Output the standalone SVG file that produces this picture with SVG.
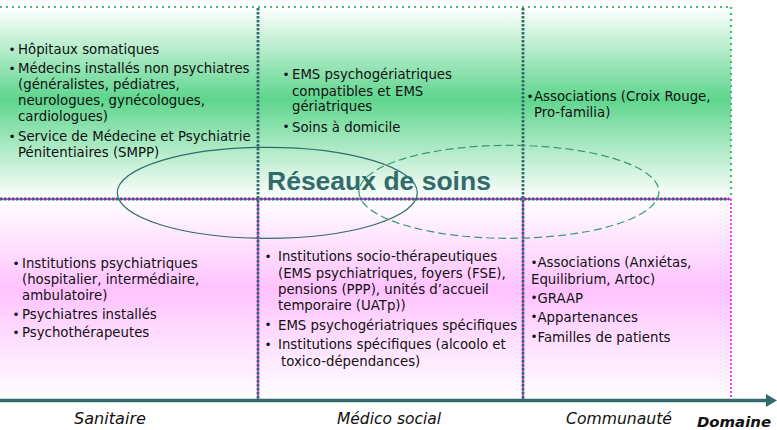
<svg xmlns="http://www.w3.org/2000/svg" width="777" height="430" viewBox="0 0 777 430">
<style>
.t{font-family:"DejaVu Sans","Verdana",sans-serif;font-size:13.3px;fill:#111}
.b{font-family:"DejaVu Sans","Verdana",sans-serif;font-size:12px;fill:#111}
.ax{font-family:"DejaVu Sans","Verdana",sans-serif;font-size:15px;font-style:italic;fill:#111}
.teal{stroke:#336b6b;stroke-width:2.8;stroke-dasharray:2.5 1.5;fill:none}
.mag{stroke:#ff33ff;stroke-width:2;fill:none}
.grn{stroke:#3fbf6f;stroke-width:2.2;stroke-dasharray:2 4;fill:none}
.magdot{stroke:#ff33ff;stroke-width:2;stroke-dasharray:2 2;fill:none}
</style>
<defs>
<linearGradient id="gG" x1="0" y1="0" x2="0" y2="1">
<stop offset="0" stop-color="#ffffff"/>
<stop offset="0.48" stop-color="#5ed58d"/>
<stop offset="1" stop-color="#ffffff"/>
</linearGradient>
<linearGradient id="gP" x1="0" y1="0" x2="0" y2="1">
<stop offset="0" stop-color="#ffffff"/>
<stop offset="0.45" stop-color="#ffc2ff"/>
<stop offset="1" stop-color="#ffffff"/>
</linearGradient>
</defs>
<rect width="777" height="430" fill="#ffffff"/>
<rect x="0" y="7" width="731" height="192" fill="url(#gG)"/>
<rect x="0" y="199" width="731" height="201" fill="url(#gP)"/>

<g id="grid">
<line class="grn" x1="0" y1="7" x2="731" y2="7"/>
<line class="grn" x1="731" y1="7" x2="731" y2="199"/>
<line class="magdot" x1="731" y1="199" x2="731" y2="398"/>
<line class="mag" x1="0" y1="199" x2="731" y2="199"/>
<line class="mag" x1="258" y1="199" x2="258" y2="399"/>
<line class="mag" x1="523" y1="199" x2="523" y2="399"/>
<line class="teal" x1="0" y1="199" x2="729" y2="199"/>
<line class="teal" x1="258" y1="8" x2="258" y2="399"/>
<line class="teal" x1="523" y1="8" x2="523" y2="399"/>
</g>

<g id="sanitaire-haut">
<text class="b" x="8.5" y="53.5">•</text>
<text class="t" x="18" y="54">Hôpitaux somatiques</text>
<text class="b" x="8.5" y="72.5">•</text>
<text class="t" x="18" y="73">Médecins installés non psychiatres</text>
<text class="t" x="18" y="89">(généralistes, pédiatres,</text>
<text class="t" x="18" y="105">neurologues, gynécologues,</text>
<text class="t" x="18" y="121">cardiologues)</text>
<text class="b" x="8.5" y="140.5">•</text>
<text class="t" x="18" y="141">Service de Médecine et Psychiatrie</text>
<text class="t" x="18" y="157">Pénitentiaires (SMPP)</text>
</g>

<g id="medico-haut">
<text class="b" x="282.5" y="78.5">•</text>
<text class="t" x="292" y="79">EMS psychogériatriques</text>
<text class="t" x="292" y="95.5">compatibles et EMS</text>
<text class="t" x="292" y="111">gériatriques</text>
<text class="b" x="282.5" y="131">•</text>
<text class="t" x="292" y="131.5">Soins à domicile</text>
</g>

<g id="communaute-haut">
<text class="b" x="526.5" y="100.5">•</text>
<text class="t" x="534" y="101">Associations (Croix Rouge,</text>
<text class="t" x="534" y="117">Pro-familia)</text>
</g>

<g id="sanitaire-bas">
<text class="b" x="12.5" y="267.5">•</text>
<text class="t" x="22" y="268">Institutions psychiatriques</text>
<text class="t" x="22" y="284">(hospitalier, intermédiaire,</text>
<text class="t" x="22" y="300">ambulatoire)</text>
<text class="b" x="12.5" y="318.5">•</text>
<text class="t" x="22" y="319">Psychiatres installés</text>
<text class="b" x="12.5" y="336.5">•</text>
<text class="t" x="22" y="337">Psychothérapeutes</text>
</g>

<g id="medico-bas">
<text class="b" x="264.5" y="260.5">•</text>
<text class="t" x="278" y="261">Institutions socio-thérapeutiques</text>
<text class="t" x="278" y="277.5">(EMS psychiatriques, foyers (FSE),</text>
<text class="t" x="278" y="294">pensions (PPP), unités d’accueil</text>
<text class="t" x="278" y="310">temporaire (UATp))</text>
<text class="b" x="264.5" y="329">•</text>
<text class="t" x="278" y="329.5">EMS psychogériatriques spécifiques</text>
<text class="b" x="264.5" y="348.5">•</text>
<text class="t" x="278" y="349">Institutions spécifiques (alcoolo et</text>
<text class="t" x="281" y="366">toxico-dépendances)</text>
</g>

<g id="communaute-bas">
<text class="b" x="530.5" y="266.5">•</text>
<text class="t" x="537.5" y="267">Associations (Anxiétas,</text>
<text class="t" x="531" y="283.5">Equilibrium, Artoc)</text>
<text class="b" x="530.5" y="302">•</text>
<text class="t" x="537.5" y="302.5">GRAAP</text>
<text class="b" x="530.5" y="321">•</text>
<text class="t" x="537.5" y="321.5">Appartenances</text>
<text class="b" x="530.5" y="341">•</text>
<text class="t" x="537.5" y="341.5">Familles de patients</text>
</g>

<g id="reseaux">
<text x="267" y="190" font-family="Liberation Sans, Arial, sans-serif" font-size="26.5" font-weight="bold" fill="#336b6b">Réseaux de soins</text>
<ellipse cx="267.3" cy="192.8" rx="150" ry="45.5" fill="none" stroke="#336b6b" stroke-width="1.2"/>
<ellipse cx="509" cy="191.8" rx="150" ry="46.5" fill="none" stroke="#3a9a6e" stroke-width="1.2" stroke-dasharray="8 4"/>
</g>

<g id="connectors">
<line x1="0" y1="400.5" x2="768" y2="400.5" stroke="#336b6b" stroke-width="3.5"/>
<polygon points="766,394 777,400.5 766,407" fill="#336b6b"/>
</g>

<g id="axis-labels">
<text class="ax" x="74" y="424" textLength="72" lengthAdjust="spacingAndGlyphs">Sanitaire</text>
<text class="ax" x="337" y="424" textLength="104" lengthAdjust="spacingAndGlyphs">Médico social</text>
<text class="ax" x="566" y="424" textLength="106" lengthAdjust="spacingAndGlyphs">Communauté</text>
<text x="697" y="427" font-family="DejaVu Sans, Verdana, sans-serif" font-size="14" font-weight="bold" font-style="italic" fill="#111" textLength="74" lengthAdjust="spacingAndGlyphs">Domaine</text>
</g>
</svg>
